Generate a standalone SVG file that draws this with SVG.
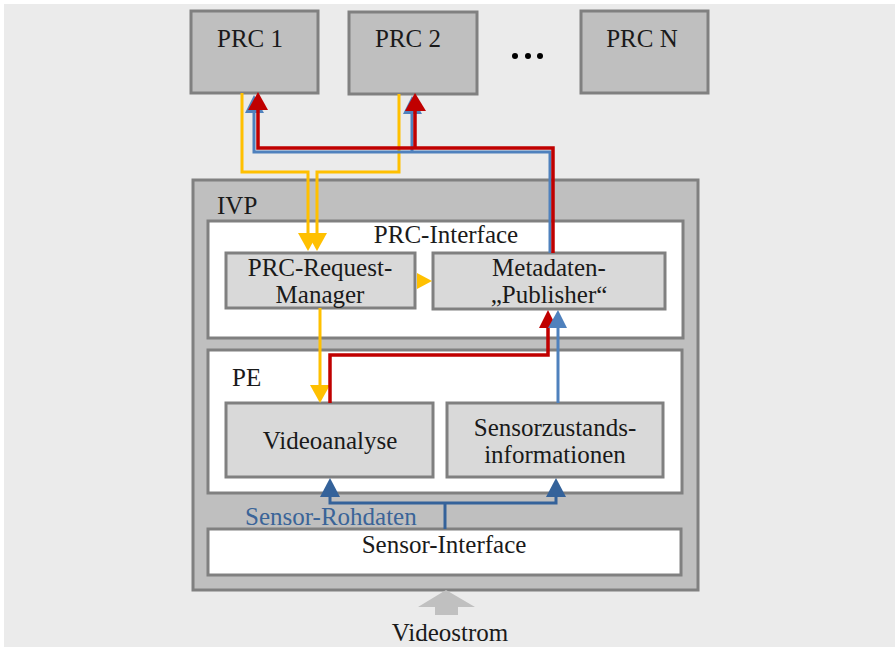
<svg xmlns="http://www.w3.org/2000/svg" width="895" height="647" viewBox="0 0 895 647">
  <style>
    text { font-family: "Liberation Serif", "DejaVu Serif", serif; font-size: 25px; fill: #1a1a1a; }
    .mid { text-anchor: middle; }
    .outer { fill: #bfbfbf; stroke: #808080; stroke-width: 3; }
    .panel { fill: #ffffff; stroke: #808080; stroke-width: 3; }
    .inner { fill: #d9d9d9; stroke: #808080; stroke-width: 3; }
    .yel { fill: none; stroke: #ffc000; stroke-width: 3; }
    .red { fill: none; stroke: #c00000; stroke-width: 3.5; }
    .blu { fill: none; stroke: #4f81bd; stroke-width: 3; }
    .dblu { fill: none; stroke: #34629a; stroke-width: 3; }
  </style>

  <!-- page background -->
  <rect x="4" y="4" width="891" height="643" fill="#ebebeb"/>

  <!-- processing clients -->
  <g id="prc1">
    <rect class="outer" x="191" y="11" width="127" height="82"/>
    <text class="mid" x="250" y="47">PRC 1</text>
  </g>
  <g id="prc2">
    <rect class="outer" x="349" y="12" width="128" height="82"/>
    <text class="mid" x="408" y="47">PRC 2</text>
  </g>
  <g id="dots">
    <circle cx="515" cy="56" r="3" fill="#000"/>
    <circle cx="528" cy="56" r="3" fill="#000"/>
    <circle cx="540" cy="56" r="3" fill="#000"/>
  </g>
  <g id="prcN">
    <rect class="outer" x="581" y="11" width="127" height="82"/>
    <text class="mid" x="642" y="47">PRC N</text>
  </g>

  <!-- IVP container -->
  <g id="ivp">
    <rect class="outer" x="193" y="180" width="505" height="410"/>
    <text x="217" y="214">IVP</text>
  </g>
  <g id="prc-interface">
    <rect class="panel" x="208" y="221" width="475" height="117"/>
    <text class="mid" x="446" y="243">PRC-Interface</text>
  </g>
  <g id="request-manager">
    <rect class="inner" x="226" y="253" width="189" height="55"/>
    <text class="mid" x="320" y="276">PRC-Request-</text>
    <text class="mid" x="320" y="303">Manager</text>
  </g>
  <g id="publisher">
    <rect class="inner" x="433" y="253" width="232" height="56"/>
    <text class="mid" x="549" y="276">Metadaten-</text>
    <text class="mid" x="549" y="303">„Publisher“</text>
  </g>
  <g id="pe">
    <rect class="panel" x="208" y="350" width="474" height="143"/>
    <text x="232" y="386">PE</text>
  </g>
  <g id="videoanalyse">
    <rect class="inner" x="226" y="403" width="207" height="74"/>
    <text class="mid" x="330" y="449">Videoanalyse</text>
  </g>
  <g id="sensorzustand">
    <rect class="inner" x="447" y="403" width="216" height="74"/>
    <text class="mid" x="555" y="436">Sensorzustands-</text>
    <text class="mid" x="555" y="463">informationen</text>
  </g>
  <g id="sensor-interface">
    <rect class="panel" x="208" y="529" width="473" height="46"/>
    <text class="mid" x="444" y="553">Sensor-Interface</text>
  </g>
  <g id="videostrom">
    <polygon points="446,590 475,607 458,607 458,615 435,615 435,607 418,607" fill="#c0c0c0"/>
    <text class="mid" x="450" y="641">Videostrom</text>
  </g>

  <!-- connectors -->
  <g id="connectors">
    <!-- requests from the clients -->
    <polyline class="yel" points="242,93 242,172 308,172 308,236"/>
    <polyline class="yel" points="399,94 399,172 317,172 317,236"/>
    <polygon points="298,233 318,233 308,251" fill="#ffc000"/>
    <polygon points="307,233 327,233 317,251" fill="#ffc000"/>
    <polygon points="417,273 417,289 432,281" fill="#ffc000"/>
    <line class="yel" x1="320" y1="308" x2="320" y2="388"/>
    <polygon points="310,385 330,385 320,403" fill="#ffc000"/>

    <!-- state info (blue) to clients -->
    <polyline class="blu" points="550,253 550,152 254,152 254,108"/>
    <line class="blu" x1="412" y1="152" x2="412" y2="110"/>
    <polygon points="245,113 264,113 254,95" fill="#4f81bd"/>
    <polygon points="403,114 422,114 412,96" fill="#4f81bd"/>

    <!-- metadata (red) to clients -->
    <polyline class="red" points="553,253 553,148 258,148 258,106"/>
    <line class="red" x1="415" y1="148" x2="415" y2="108"/>
    <polygon points="248,110 268,110 258,92" fill="#c00000"/>
    <polygon points="405,111 426,111 415,93" fill="#c00000"/>

    <!-- analysis results to publisher -->
    <polyline class="red" points="330,403 330,355 548,355 548,326"/>
    <polygon points="539,328 557,328 548,310" fill="#c00000"/>
    <line class="blu" x1="558" y1="403" x2="558" y2="326"/>
    <polygon points="548,328 567,328 558,310" fill="#4f81bd"/>

    <!-- raw sensor data -->
    <polyline class="dblu" points="445,529 445,503"/>
    <polyline class="dblu" points="330,494 330,503 556,503 556,494"/>
    <polygon points="320,497 340,497 330,478" fill="#34629a"/>
    <polygon points="546,497 566,497 556,478" fill="#34629a"/>
    <text x="245" y="525" style="fill:#3a6498">Sensor-Rohdaten</text>
  </g>
</svg>
